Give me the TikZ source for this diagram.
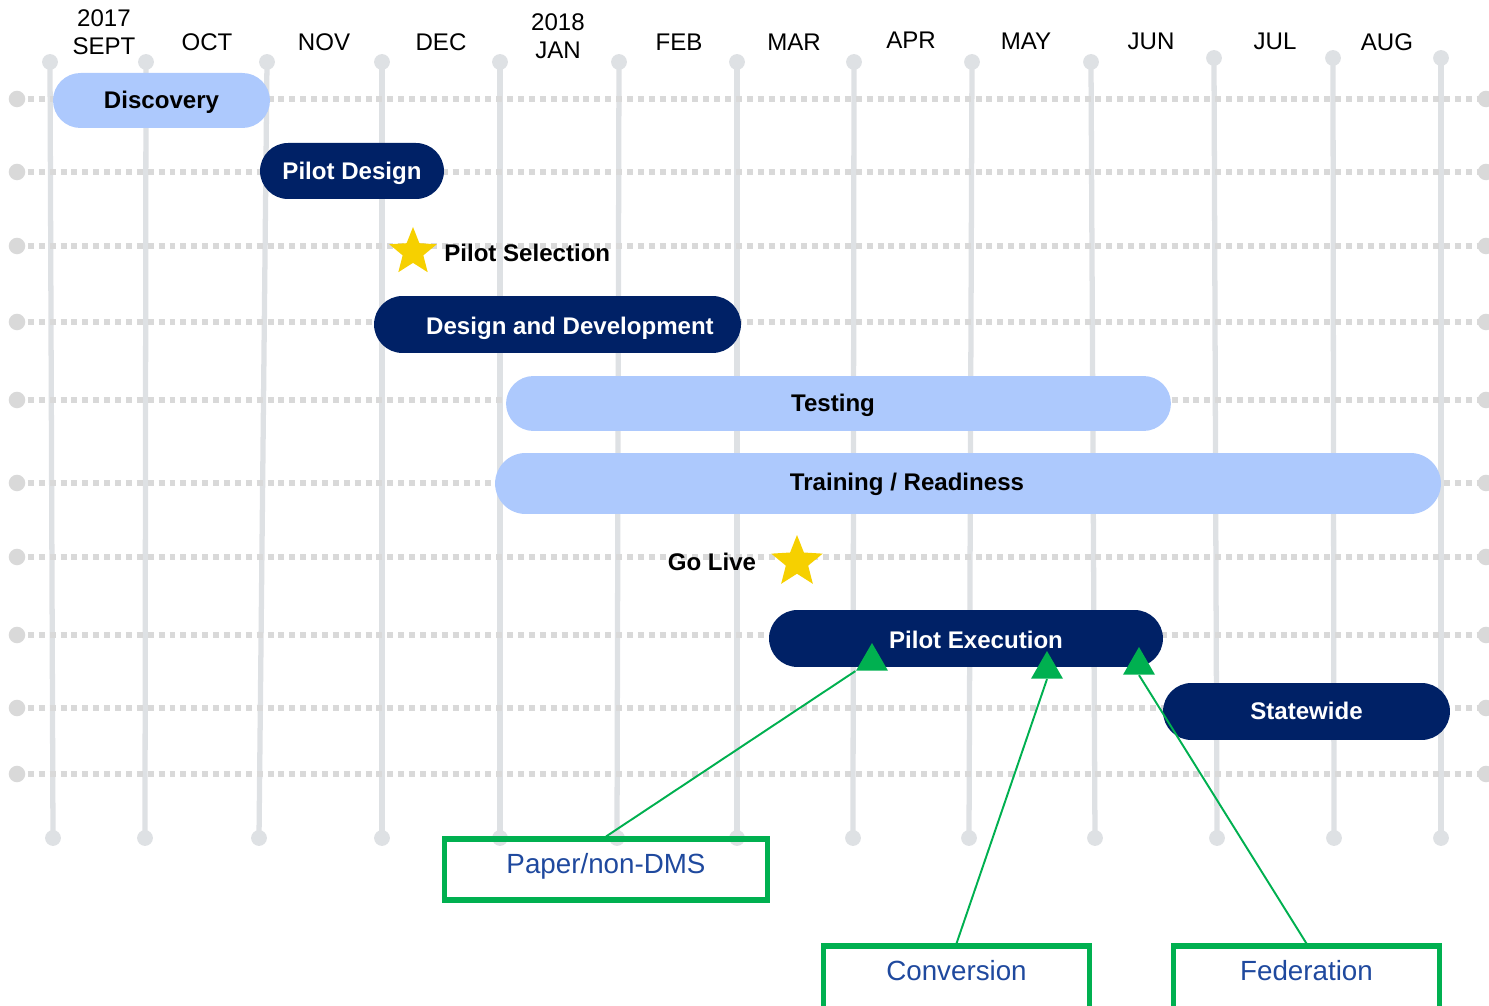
\documentclass[tikz,border=0pt]{standalone}
\usepackage{fontspec}
\setmainfont{Liberation Sans}
\usetikzlibrary{arrows,shapes}

\definecolor{barblue}{RGB}{173,201,253}
\definecolor{navy}{RGB}{0,33,102}
\definecolor{gridgray}{RGB}{222,225,228}
\definecolor{dotgray}{RGB}{217,217,217}
\definecolor{staryellow}{RGB}{246,208,0}
\definecolor{boxgreen}{RGB}{0,176,80}
\definecolor{boxtext}{RGB}{31,73,158}

\tikzset{
  month/.style={align=center, inner sep=0pt, font=\fontsize{13.7}{15.9}\selectfont},
  phase/.style={rounded rectangle, fill=barblue, inner sep=0pt, text=black,
    text height=0.44cm, text depth=0.1cm,
    font=\fontsize{13.7}{16}\selectfont\bfseries},
  pilot/.style={phase, fill=navy, text=white},
  bartext/.style={inner sep=0pt, text height=0.44cm, text depth=0.1cm,
    font=\fontsize{13.7}{16}\selectfont\bfseries},
  milestone/.style={star, star points=5, star point ratio=2.3, fill=staryellow,
    inner sep=0pt, minimum size=1cm},
  marker/.style={regular polygon, regular polygon sides=3, fill=boxgreen,
    inner sep=0pt, minimum size=0.74cm},
  area/.style={draw=boxgreen, line width=3pt, text=boxtext, anchor=north,
    font=\fontsize{15.8}{18}\selectfont, inner xsep=0pt, inner ysep=0.26cm,
    text height=0.42cm, text depth=0.28cm},
  link/.style={boxgreen, line width=1.1pt},
  vline/.style={gridgray, line width=3pt},
  hrow/.style={dotgray, line width=3.4pt, dash pattern=on 3.4pt off 2.8pt}
}

\begin{document}
\begin{tikzpicture}[x=0.02cm, y=-0.02cm]
\useasboundingbox (0,0) rectangle (1489,1006);

% month lines
\foreach \t/\h/\b in {50/62/53, 146/62/145, 267/62/259, 382/62/382, 500/62/500,
  619/62/617, 737/62/737, 854/62/853, 972/62/969, 1091/62/1095,
  1214/58/1217, 1333/58/1334, 1441/58/1441}{
  \draw[vline] (\t,\h) -- (\b,838);
  \fill[gridgray] (\t,\h) circle (4.5pt) (\b,838) circle (4.5pt);
}
% rows
\foreach \y in {99,172,246,322,400,483,557,635,708,774}{
  \draw[hrow] (17,\y) -- (1486,\y);
  \fill[dotgray] (17,\y) circle (4.7pt) (1486,\y) circle (4.7pt);
}

\node[month] (sept) at (104,32) {2017\\SEPT};
\node[month] (oct) at (207,42) {OCT};
\node[month] (nov) at (324,42) {NOV};
\node[month] (dec) at (441,42) {DEC};
\node[month] (jan) at (558,36) {2018\\JAN};
\node[month] (feb) at (679,42) {FEB};
\node[month] (mar) at (794,42) {MAR};
\node[month] (apr) at (911,40) {APR};
\node[month] (may) at (1026,41) {MAY};
\node[month] (jun) at (1151,41) {JUN};
\node[month] (jul) at (1275,41) {JUL};
\node[month] (aug) at (1387,42) {AUG};

\node[phase, minimum width=4.34cm, minimum height=1.1cm] (discovery) at (161.5,100.5) {Discovery};
\node[pilot, minimum width=3.68cm, minimum height=1.12cm] (design) at (352,171) {Pilot Design};
\node[milestone] (selstar) at (413,252) {};
\node[bartext, anchor=west] (selection) at (444,253) {Pilot Selection};
\node[pilot, minimum width=7.34cm, minimum height=1.14cm] (devel) at (557.5,324.5) {};
\node[bartext, text=white] (develtext) at (570,326) {Design and Development};
\node[phase, minimum width=13.3cm, minimum height=1.1cm] (testing) at (838.5,403.5) {};
\node[bartext] (testingtext) at (833,403) {Testing};
\node[phase, minimum width=18.92cm, minimum height=1.22cm] (training) at (968,483.5) {};
\node[bartext] (trainingtext) at (907,482) {Training / Readiness};
\node[bartext] (golive) at (712,562) {Go Live};
\node[milestone, minimum size=1.08cm] (livestar) at (797,562) {};
\node[pilot, minimum width=7.88cm, minimum height=1.14cm] (execution) at (966,638.5) {};
\node[bartext, text=white] (executiontext) at (976,640) {Pilot Execution};
\node[pilot, minimum width=5.74cm, minimum height=1.14cm] (statewide) at (1306.5,711.5) {Statewide};

\node[marker] (tri1) at (872,661.5) {};
\node[marker] (tri2) at (1047,669.5) {};
\node[marker] (tri3) at (1139,665.5) {};

\node[area, minimum width=6.46cm] (paper) at (606,836.5) {Paper/non-DMS};
\node[area, minimum width=5.32cm, text depth=1.2cm] (conv) at (956.5,943.5) {Conversion};
\node[area, minimum width=5.32cm, text depth=1.2cm] (fed) at (1306.5,943.5) {Federation};

\draw[link] (paper.north) -- (tri1.corner 2);
\draw[link] (conv.north) -- (tri2.south);
\draw[link] (fed.north) -- (tri3.south);
\end{tikzpicture}
\end{document}
